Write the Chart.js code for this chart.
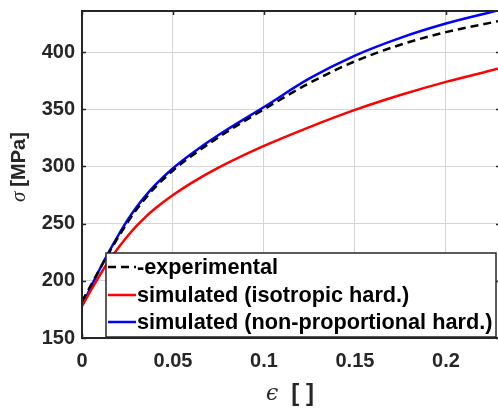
<!DOCTYPE html>
<html>
<head>
<meta charset="utf-8">
<script src="https://cdn.jsdelivr.net/npm/chart.js@4"></script>
<style>
    html, body { margin: 0; padding: 0; background: #fff; overflow: hidden; }
</style>
</head>
<body>
<canvas id="stress-strain-plot" width="500" height="410"></canvas>
<script>
// true strain values (x) shared by all curves
const strain = [0, 0.005, 0.01, 0.015, 0.02, 0.025, 0.03, 0.035, 0.04, 0.05, 0.06, 0.075, 0.1, 0.125, 0.15, 0.175, 0.2, 0.23];

// stress in MPa
const experimental  = [182, 196.5, 211, 225, 238.5, 251, 262.5, 272.5, 281.5, 296.5, 309, 325.5, 350, 373, 392, 406.5, 417.5, 427.5];
const isotropicHard = [178, 192, 205.5, 218, 229, 239, 248, 256, 263, 275, 285.5, 299, 318, 334.5, 349.5, 362.5, 374, 386];
const nonPropHard   = [178, 195, 211, 226, 240, 253, 264.5, 274.5, 283.5, 298.5, 311, 327.5, 352, 377, 397, 412.5, 425, 437];

const seriesLabels = [
    "-experimental",
    "simulated (isotropic hard.)",
    "simulated (non-proportional hard.)"
];

const xTicks = [0, 0.05, 0.1, 0.15, 0.2];
const yTicks = [150, 200, 250, 300, 350, 400];

const axisColor = "#262626";
const gridColor = "#d4d4d4";
const sansFamily = "'Liberation Sans', Arial, sans-serif";

function toPoints(values) {
    return values.map((v, i) => ({ x: strain[i], y: v }));
}

// box with inward ticks on all four sides, like a MATLAB axes
const frameBox = {
    id: "frameBox",
    afterDatasetsDraw(chart) {
        const { ctx, chartArea: a, scales } = chart;
        const len = 4;
        ctx.save();
        ctx.strokeStyle = axisColor;
        ctx.lineWidth = 1.5;
        xTicks.forEach(t => {
            const px = Math.round(scales.x.getPixelForValue(t)) + 0.5;
            ctx.beginPath();
            ctx.moveTo(px, a.bottom); ctx.lineTo(px, a.bottom - len);
            ctx.moveTo(px, a.top); ctx.lineTo(px, a.top + len);
            ctx.stroke();
        });
        yTicks.forEach(t => {
            const py = Math.round(scales.y.getPixelForValue(t)) + 0.5;
            ctx.beginPath();
            ctx.moveTo(a.left, py); ctx.lineTo(a.left + len, py);
            ctx.moveTo(a.right, py); ctx.lineTo(a.right - len, py);
            ctx.stroke();
        });
        ctx.lineWidth = 2;
        ctx.strokeRect(a.left, a.top, a.right - a.left, a.bottom - a.top);
        ctx.restore();
    }
};

// axis titles mix an italic serif symbol with bold sans units
const axisTitles = {
    id: "axisTitles",
    afterDraw(chart) {
        const { ctx } = chart;
        ctx.save();
        ctx.fillStyle = axisColor;
        ctx.textBaseline = "alphabetic";

        // x title: ϵ [ ]
        const symFont = "italic 22px 'DejaVu Serif', 'Liberation Serif', serif";
        const unitFontX = "bold 24px " + sansFamily;
        ctx.font = symFont;
        const eW = ctx.measureText("\u03F5").width;
        ctx.font = unitFontX;
        const gap = 13;
        const uW = ctx.measureText("[ ]").width;
        const x0 = 290 - (eW + gap + uW) / 2;
        ctx.font = symFont;
        ctx.fillText("\u03F5", x0, 400);
        ctx.font = unitFontX;
        ctx.fillText("[ ]", x0 + eW + gap, 401);

        // y title: σ [MPa], rotated
        ctx.translate(25, 202);
        ctx.rotate(-Math.PI / 2);
        ctx.font = "italic 21px 'Liberation Serif', 'DejaVu Serif', serif";
        ctx.fillText("\u03C3", 0, 0);
        const sW = ctx.measureText("\u03C3").width;
        ctx.font = "bold 20px " + sansFamily;
        ctx.fillText("[MPa]", sW + 5, 0);
        ctx.restore();
    }
};

// boxed legend sitting in the lower part of the axes
const boxLegend = {
    id: "boxLegend",
    afterDraw(chart) {
        const { ctx } = chart;
        const left = 106, top = 253, right = 496, bottom = 337;
        const rows = [267, 295, 322];
        ctx.save();
        ctx.fillStyle = "#fff";
        ctx.fillRect(left, top, right - left, bottom - top);
        ctx.strokeStyle = axisColor;
        ctx.lineWidth = 1.5;
        ctx.strokeRect(left, top, right - left, bottom - top);

        chart.data.datasets.forEach((ds, i) => {
            const y = rows[i];
            ctx.strokeStyle = ds.borderColor;
            ctx.lineWidth = ds.borderWidth;
            ctx.setLineDash(ds.borderDash || []);
            ctx.beginPath();
            ctx.moveTo(108, y);
            ctx.lineTo(136, y);
            ctx.stroke();
            ctx.setLineDash([]);
            ctx.fillStyle = "#000";
            ctx.font = "bold 21.7px " + sansFamily;
            ctx.textBaseline = "middle";
            ctx.fillText(ds.label, 137, y + 1);
        });
        ctx.restore();
    }
};

// keep the plot box at fixed edges regardless of label overhang
function zeroPadding(scale) {
    scale.paddingTop = 0;
    scale.paddingBottom = 0;
    scale.paddingLeft = 0;
    scale.paddingRight = 0;
}

new Chart("stress-strain-plot", {
    type: "line",
    data: {
        datasets: [
            {
                label: seriesLabels[0],
                data: toPoints(experimental),
                borderColor: "#000000",
                borderWidth: 2.5,
                borderDash: [8, 5]
            },
            {
                label: seriesLabels[1],
                data: toPoints(isotropicHard),
                borderColor: "#ff0000",
                borderWidth: 2.5
            },
            {
                label: seriesLabels[2],
                data: toPoints(nonPropHard),
                borderColor: "#0000ff",
                borderWidth: 2.5
            }
        ]
    },
    options: {
        responsive: false,
        animation: false,
        parsing: false,
        elements: {
            point: { radius: 0 },
            line: { cubicInterpolationMode: "monotone", fill: false }
        },
        layout: { padding: { top: 11, right: 0, left: 0, bottom: 0 } },
        plugins: {
            legend: { display: false },
            tooltip: { enabled: false }
        },
        scales: {
            x: {
                type: "linear",
                min: 0,
                max: 0.2297,
                afterFit: scale => { scale.height = 72; zeroPadding(scale); },
                afterBuildTicks: scale => { scale.ticks = xTicks.map(v => ({ value: v })); },
                ticks: {
                    color: axisColor,
                    font: { family: sansFamily, size: 20, weight: "bold" },
                    padding: 11,
                    maxRotation: 0,
                    callback: v => String(+v.toFixed(2))
                },
                grid: { color: gridColor, lineWidth: 1, drawTicks: false },
                border: { display: false }
            },
            y: {
                min: 150,
                max: 436,
                afterFit: scale => { scale.width = 82; zeroPadding(scale); },
                afterBuildTicks: scale => { scale.ticks = yTicks.map(v => ({ value: v })); },
                ticks: {
                    color: axisColor,
                    font: { family: sansFamily, size: 20, weight: "bold" },
                    padding: 7
                },
                grid: { color: gridColor, lineWidth: 1, drawTicks: false },
                border: { display: false }
            }
        }
    },
    plugins: [frameBox, axisTitles, boxLegend]
});
</script>
</body>
</html>
